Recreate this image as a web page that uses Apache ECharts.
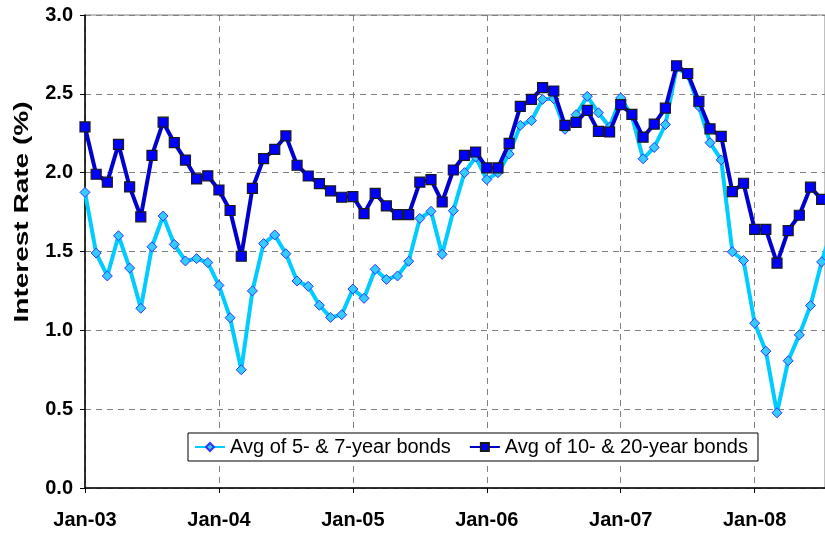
<!DOCTYPE html>
<html>
<head>
<meta charset="utf-8">
<script src="https://cdn.jsdelivr.net/npm/echarts@6/dist/echarts.min.js"></script>
<style>
  html, body { margin: 0; padding: 0; background: #fff; }
  #chart { width: 825px; height: 533px; }
</style>
</head>
<body>
<div id="chart"></div>
<script>
// Monthly average interest rates, Jan-03 through Aug-08 (last month runs off the right edge)
const tickLabels = ['Jan-03', 'Jan-04', 'Jan-05', 'Jan-06', 'Jan-07', 'Jan-08'];
const seriesNames = ['Avg of 5- & 7-year bonds', 'Avg of 10- & 20-year bonds'];

const bonds5to7 = [
  1.875, 1.49, 1.345, 1.60, 1.395, 1.14, 1.53, 1.725, 1.545, 1.44, 1.455, 1.43,
  1.285, 1.08, 0.75, 1.25, 1.55, 1.605, 1.486, 1.313, 1.279, 1.159, 1.082, 1.099,
  1.262, 1.203, 1.387, 1.323, 1.345, 1.438, 1.71, 1.755, 1.482, 1.759, 2.00, 2.099,
  1.956, 2.00, 2.118, 2.30, 2.33, 2.465, 2.469, 2.275, 2.368, 2.484, 2.38, 2.29,
  2.474, 2.36, 2.088, 2.16, 2.305, 2.665, 2.62, 2.42, 2.19, 2.081, 1.498, 1.443,
  1.045, 0.868, 0.477, 0.807, 0.971, 1.157, 1.434, 1.66
];

const bonds10to20 = [
  2.29, 1.99, 1.94, 2.18, 1.91, 1.72, 2.11, 2.32, 2.19, 2.08, 1.96, 1.98,
  1.89, 1.76, 1.47, 1.90, 2.089, 2.148, 2.233, 2.047, 1.979, 1.93, 1.884, 1.844,
  1.848, 1.74, 1.869, 1.789, 1.734, 1.734, 1.94, 1.956, 1.814, 2.017, 2.11, 2.131,
  2.03, 2.03, 2.186, 2.42, 2.465, 2.539, 2.518, 2.30, 2.319, 2.395, 2.262, 2.258,
  2.431, 2.37, 2.225, 2.308, 2.409, 2.678, 2.629, 2.453, 2.278, 2.23, 1.88, 1.933,
  1.64, 1.64, 1.426, 1.633, 1.73, 1.908, 1.83, 1.86
];

// x is the month index counted from Jan-03
const toPairs = arr => arr.map((v, i) => [i, v]);

const FONT = '"Liberation Sans", Arial, sans-serif';
const grid = '#808080';

const chart = echarts.init(document.getElementById('chart'), null, { renderer: 'canvas' });

chart.setOption({
  animation: false,
  backgroundColor: '#fff',
  grid: {
    left: 85, right: 0, top: 15, bottom: 45,
    show: true, borderColor: grid, borderWidth: 1, backgroundColor: 'transparent'
  },
  xAxis: {
    type: 'value',
    min: 0,
    max: 66.3,
    interval: 12,
    axisLine: { show: true, lineStyle: { color: '#000', width: 1.5 } },
    axisTick: { show: true, length: 5, lineStyle: { color: '#000', width: 1 } },
    axisLabel: {
      showMaxLabel: false,
      margin: 22,
      color: '#000',
      fontFamily: FONT,
      fontWeight: 'bold',
      fontSize: 20,
      formatter: v => (v % 12 === 0 && tickLabels[v / 12]) ? tickLabels[v / 12] : ''
    },
    splitLine: { show: true, lineStyle: { color: grid, type: [6, 5], width: 1 } }
  },
  yAxis: {
    type: 'value',
    min: 0,
    max: 3,
    interval: 0.5,
    axisLine: { show: true, lineStyle: { color: '#000', width: 1.5 } },
    axisTick: { show: true, length: 5, lineStyle: { color: '#000', width: 1 } },
    axisLabel: {
      margin: 12,
      color: '#000',
      fontFamily: FONT,
      fontWeight: 'bold',
      fontSize: 20,
      formatter: v => v.toFixed(1)
    },
    splitLine: { show: true, lineStyle: { color: grid, type: [6, 5], width: 1 } }
  },
  legend: {
    left: 188,
    top: 433,
    itemWidth: 30,
    itemHeight: 10,
    itemGap: 18,
    padding: [4, 10, 4, 6],
    borderColor: '#000',
    borderWidth: 1,
    backgroundColor: '#fff',
    textStyle: { color: '#000', fontFamily: FONT, fontSize: 20 },
    data: seriesNames
  },
  graphic: [{
    type: 'text',
    x: 22,
    y: 212,
    rotation: Math.PI / 2,
    scaleX: 1.4,
    style: {
      text: 'Interest Rate (%)',
      font: 'bold 20px ' + FONT,
      fill: '#000',
      textAlign: 'center',
      textVerticalAlign: 'middle'
    }
  }],
  series: [
    {
      name: seriesNames[0],
      type: 'line',
      data: toPairs(bonds5to7),
      symbol: 'diamond',
      symbolSize: 10,
      lineStyle: { color: '#00CCFF', width: 4 },
      itemStyle: { color: '#33CCFF', borderColor: '#3333FF', borderWidth: 1 },
      z: 2
    },
    {
      name: seriesNames[1],
      type: 'line',
      data: toPairs(bonds10to20),
      symbol: 'rect',
      symbolSize: 10,
      lineStyle: { color: '#0000CC', width: 4 },
      itemStyle: { color: '#0000FF', borderColor: '#1a1a1a', borderWidth: 1.2 },
      z: 3
    }
  ]
});
</script>
</body>
</html>
